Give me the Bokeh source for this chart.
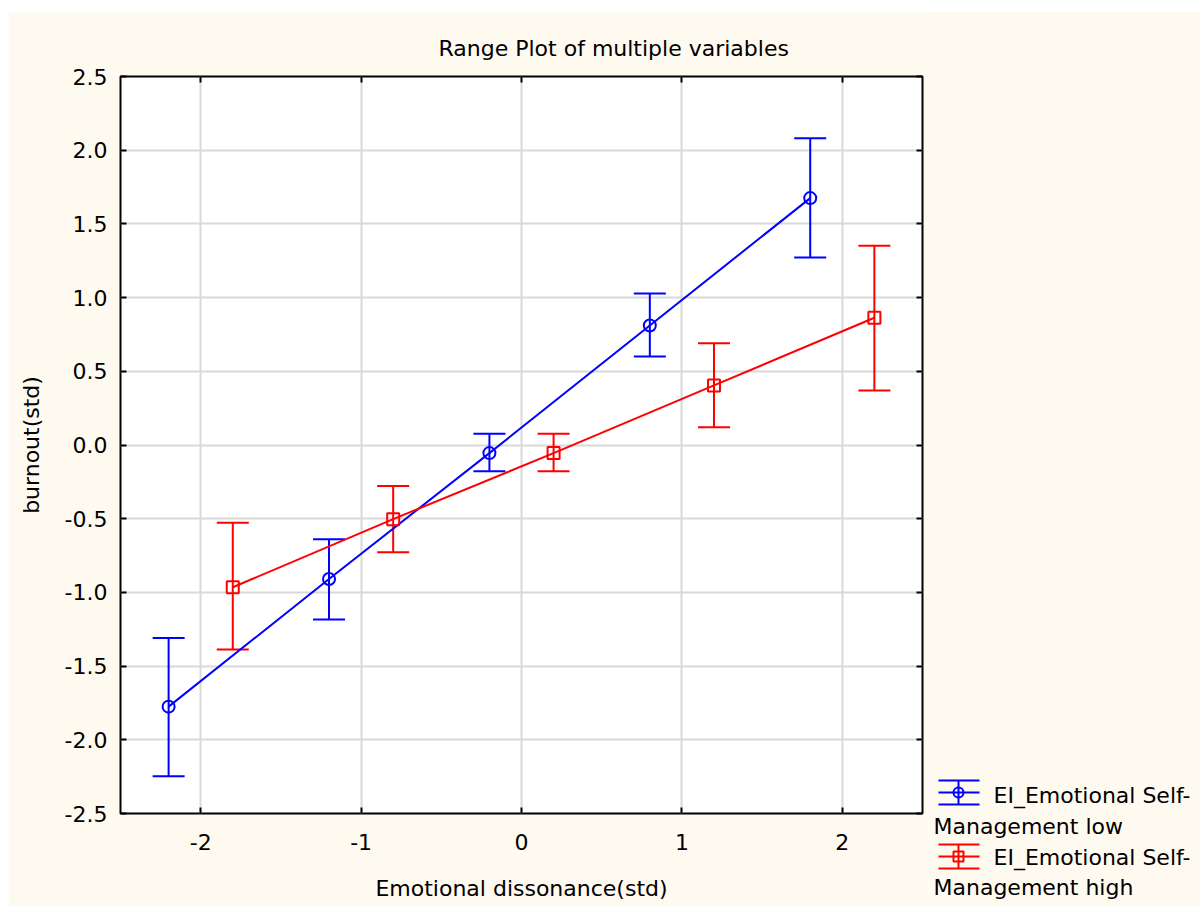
from bokeh.plotting import figure
from bokeh.models import (ColumnDataSource, Whisker, TeeHead, FixedTicker,
                          NumeralTickFormatter, LinearAxis, Range1d, Spacer)
from bokeh.layouts import column, row
from bokeh.embed import file_html
from bokeh.resources import INLINE
from bokeh.core.properties import value

# ---------------- data ----------------
title_text = "Range Plot of multiple variables"
x_label = "Emotional dissonance(std)"
y_label = "burnout(std)"

x_ticks = [-2, -1, 0, 1, 2]
y_ticks = [-2.5, -2.0, -1.5, -1.0, -0.5, 0.0, 0.5, 1.0, 1.5, 2.0, 2.5]

low_name = ["EI_Emotional Self-", "Management low"]
low_x = [-2.2, -1.2, -0.2, 0.8, 1.8]
low_mean = [-1.775, -0.909, -0.055, 0.811, 1.675]
low_upper = [-1.309, -0.640, 0.076, 1.027, 2.081]
low_lower = [-2.247, -1.184, -0.178, 0.600, 1.272]

high_name = ["EI_Emotional Self-", "Management high"]
high_x = [-1.8, -0.8, 0.2, 1.2, 2.2]
high_mean = [-0.965, -0.503, -0.055, 0.404, 0.863]
high_upper = [-0.528, -0.279, 0.076, 0.691, 1.351]
high_lower = [-1.387, -0.727, -0.178, 0.121, 0.370]

# ---------------- style ----------------
FONT = "DejaVu Sans"
BG = "#FFFAF0"
BLUE = "#0000FF"
RED = "#FF0000"
FS = "22px"

p = figure(width=920, height=894,
           x_range=Range1d(-2.5, 2.5), y_range=Range1d(-2.5, 2.5),
           output_backend="svg", toolbar_location=None,
           min_border_left=112, min_border_right=6,
           min_border_top=64, min_border_bottom=93,
           background_fill_color="white", border_fill_color=BG,
           outline_line_color="black", outline_line_width=2,
           x_axis_label=x_label, y_axis_label=y_label)

p.title.text = title_text
p.title.align = "left"
p.title.offset = 318
p.title.text_font = FONT
p.title.text_font_size = FS
p.title.text_font_style = "normal"
p.title.text_color = "black"
p.title.standoff = 31

xt = FixedTicker(ticks=x_ticks)
yt = FixedTicker(ticks=y_ticks)
p.xaxis.ticker = xt
p.yaxis.ticker = yt
p.xaxis.formatter = NumeralTickFormatter(format="0")
p.yaxis.formatter = NumeralTickFormatter(format="0.0")

for ax in (p.xaxis[0], p.yaxis[0]):
    ax.major_tick_in = 6
    ax.major_tick_out = 0
    ax.major_tick_line_width = 2
    ax.major_tick_line_color = "black"
    ax.minor_tick_line_color = None
    ax.axis_line_color = None
    ax.major_label_text_font = FONT
    ax.major_label_text_font_size = FS
    ax.major_label_text_color = "black"
    ax.axis_label_text_font = FONT
    ax.axis_label_text_font_size = FS
    ax.axis_label_text_font_style = "normal"
    ax.axis_label_text_color = "black"

p.xaxis.major_label_standoff = 20
p.xaxis.axis_label_standoff = 23
p.yaxis.major_label_standoff = 13
p.yaxis.axis_label_standoff = 18

for side, tk in (("above", x_ticks), ("right", y_ticks)):
    ax = LinearAxis(ticker=FixedTicker(ticks=tk), major_label_text_font_size="0px",
                    major_label_text_color=None,
                    major_label_standoff=0, major_tick_in=6, major_tick_out=0,
                    major_tick_line_width=2, axis_line_color=None,
                    minor_tick_line_color=None)
    p.add_layout(ax, side)

p.xgrid.ticker = xt
p.ygrid.ticker = yt
for g in (p.xgrid[0], p.ygrid[0]):
    g.grid_line_color = "#D9D9D9"
    g.grid_line_width = 2

series = [
    (low_x, low_mean, low_upper, low_lower, BLUE, "circle"),
    (high_x, high_mean, high_upper, high_lower, RED, "square"),
]
for xs, m, up, lo, col, mk in series:
    src = ColumnDataSource(dict(x=xs, mean=m, upper=up, lower=lo))
    p.line("x", "mean", source=src, line_color=col, line_width=2)
    w = Whisker(source=src, base="x", upper="upper", lower="lower",
                dimension="height", line_color=col, line_width=2,
                upper_head=TeeHead(size=32, line_color=col, line_width=2),
                lower_head=TeeHead(size=32, line_color=col, line_width=2))
    p.add_layout(w)
    p.scatter("x", "mean", source=src, marker=mk, size=12, line_color=col,
              line_width=2, fill_color=None)

# ---------------- legend panel (its own small figure, pixel-like ranges) ----------------
LW, LH = 272, 140
leg = figure(width=LW, height=LH, x_range=Range1d(0, LW), y_range=Range1d(LH, 0),
             x_axis_type=None, y_axis_type=None, output_backend="svg",
             toolbar_location=None, min_border=0, outline_line_color=None,
             background_fill_color=BG, border_fill_color=BG)
leg.xgrid.visible = False
leg.ygrid.visible = False

legend_items = [
    (low_name, BLUE, "circle", 26, 29, 60),
    (high_name, RED, "square", 90, 91, 121),
]
for lines, col, mk, yc, b1, b2 in legend_items:
    leg.segment(x0=[10, 10, 10, 30], y0=[yc - 12, yc, yc + 12, yc - 12],
                x1=[51, 51, 51, 30], y1=[yc - 12, yc, yc + 12, yc + 12],
                line_color=col, line_width=2)
    leg.scatter([30], [yc], marker=mk, size=10, line_color=col, line_width=2,
                fill_color=None)
    leg.text(x=[65, 5], y=[b1, b2], text=lines, text_font=value(FONT),
             text_font_size=FS, text_baseline="alphabetic", text_color="black")

right_col = column(Spacer(width=LW, height=894 - LH, styles={"background-color": BG}),
                   leg, spacing=0)

layout = column(Spacer(width=1192, height=12),
                row(Spacer(width=8, height=894), p, right_col, spacing=0), spacing=0)

open("out.html", "w").write(file_html(layout, INLINE))
